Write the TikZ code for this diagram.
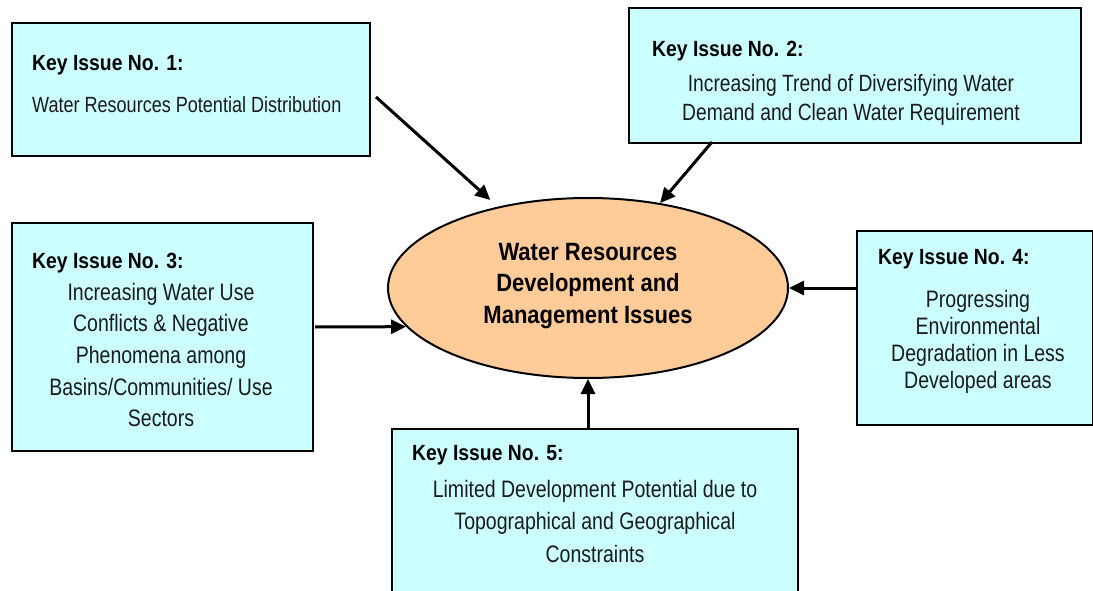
\documentclass[tikz,border=0pt]{standalone}
\usepackage{fontspec}
\setmainfont{Liberation Sans}[FakeStretch=0.82,BoldFeatures={FakeStretch=0.88}]
\usetikzlibrary{arrows.meta,shapes.geometric}
\definecolor{boxc}{HTML}{CCFFFF}
\definecolor{ellc}{HTML}{FFCC99}
\definecolor{txtc}{HTML}{1A1A1A}
\begin{document}
\begin{tikzpicture}[x=1pt,y=-1pt,
  issuebox/.style={draw=black,line width=2pt,fill=boxc,inner sep=0pt,anchor=north west},
  ttl/.style={anchor=base west,inner sep=0pt,font=\fontsize{22}{26}\selectfont\bfseries},
  bod/.style={anchor=base,inner sep=0pt,text=txtc},
  arr/.style={line width=3pt,-{Triangle[length=15pt,width=14pt]}}]
\useasboundingbox (0,0) rectangle (1093,591);
% boxes
\node[issuebox,minimum width=358pt,minimum height=133pt] (b1) at (11,22) {};
\node[issuebox,minimum width=452pt,minimum height=135pt] (b2) at (628,7) {};
\node[issuebox,minimum width=301pt,minimum height=228pt] (b3) at (11,222) {};
\node[issuebox,minimum width=236pt,minimum height=194pt] (b4) at (856,230) {};
\node[issuebox,minimum width=406pt,minimum height=180pt] (b5) at (391,428) {};
% ellipse
\node[ellipse,draw=black,line width=2pt,fill=ellc,minimum width=400pt,minimum height=180pt,inner sep=0pt] (ell) at (588,288) {};
\node[anchor=base,inner sep=0pt,font=\fontsize{25}{31.7}\selectfont\bfseries] (et) at (588,260)
  {\begin{tabular}[t]{@{}c@{}}Water Resources\\Development and\\Management Issues\end{tabular}};
% titles
\node[ttl] (t1) at (32,71) {Key Issue No. 1:};
\node[ttl] (t2) at (652,57) {Key Issue No. 2:};
\node[ttl] (t3) at (32,268) {Key Issue No. 3:};
\node[ttl] (t4) at (878,264) {Key Issue No. 4:};
\node[ttl] (t5) at (412,460) {Key Issue No. 5:};
% bodies
\node[bod,anchor=base west,font=\fontsize{22}{26}\selectfont] (d1) at (32,113) {Water Resources Potential Distribution};
\node[bod,font=\fontsize{23.5}{29}\selectfont] (d2) at (851,92)
  {\begin{tabular}[t]{@{}c@{}}Increasing Trend of Diversifying Water\\Demand and Clean Water Requirement\end{tabular}};
\node[bod,font=\fontsize{23.8}{31.7}\selectfont] (d3) at (161,300)
  {\begin{tabular}[t]{@{}c@{}}Increasing Water Use\\Conflicts \& Negative\\Phenomena among\\Basins/Communities/ Use\\Sectors\end{tabular}};
\node[bod,font=\fontsize{23.8}{27.3}\selectfont] (d4) at (978,307)
  {\begin{tabular}[t]{@{}c@{}}Progressing\\Environmental\\Degradation in Less\\Developed areas\end{tabular}};
\node[bod,font=\fontsize{23.8}{32.5}\selectfont] (d5) at (595,497)
  {\begin{tabular}[t]{@{}c@{}}Limited Development Potential due to\\Topographical and Geographical\\Constraints\end{tabular}};
% connectors
\coordinate (s1) at (376,97);
\coordinate (s2) at (712,142);
\coordinate (s3) at (315,327);
\draw[arr,shorten >=10pt] (s1) -- (ell);
\draw[arr] (s2) -- (ell);
\draw[arr] (s3) -- (ell.192.2);
\draw[arr] (b4.west |- ell.east) -- (ell.east);
\draw[arr] (b5.north -| ell.south) -- (ell.south);
\end{tikzpicture}
\end{document}
